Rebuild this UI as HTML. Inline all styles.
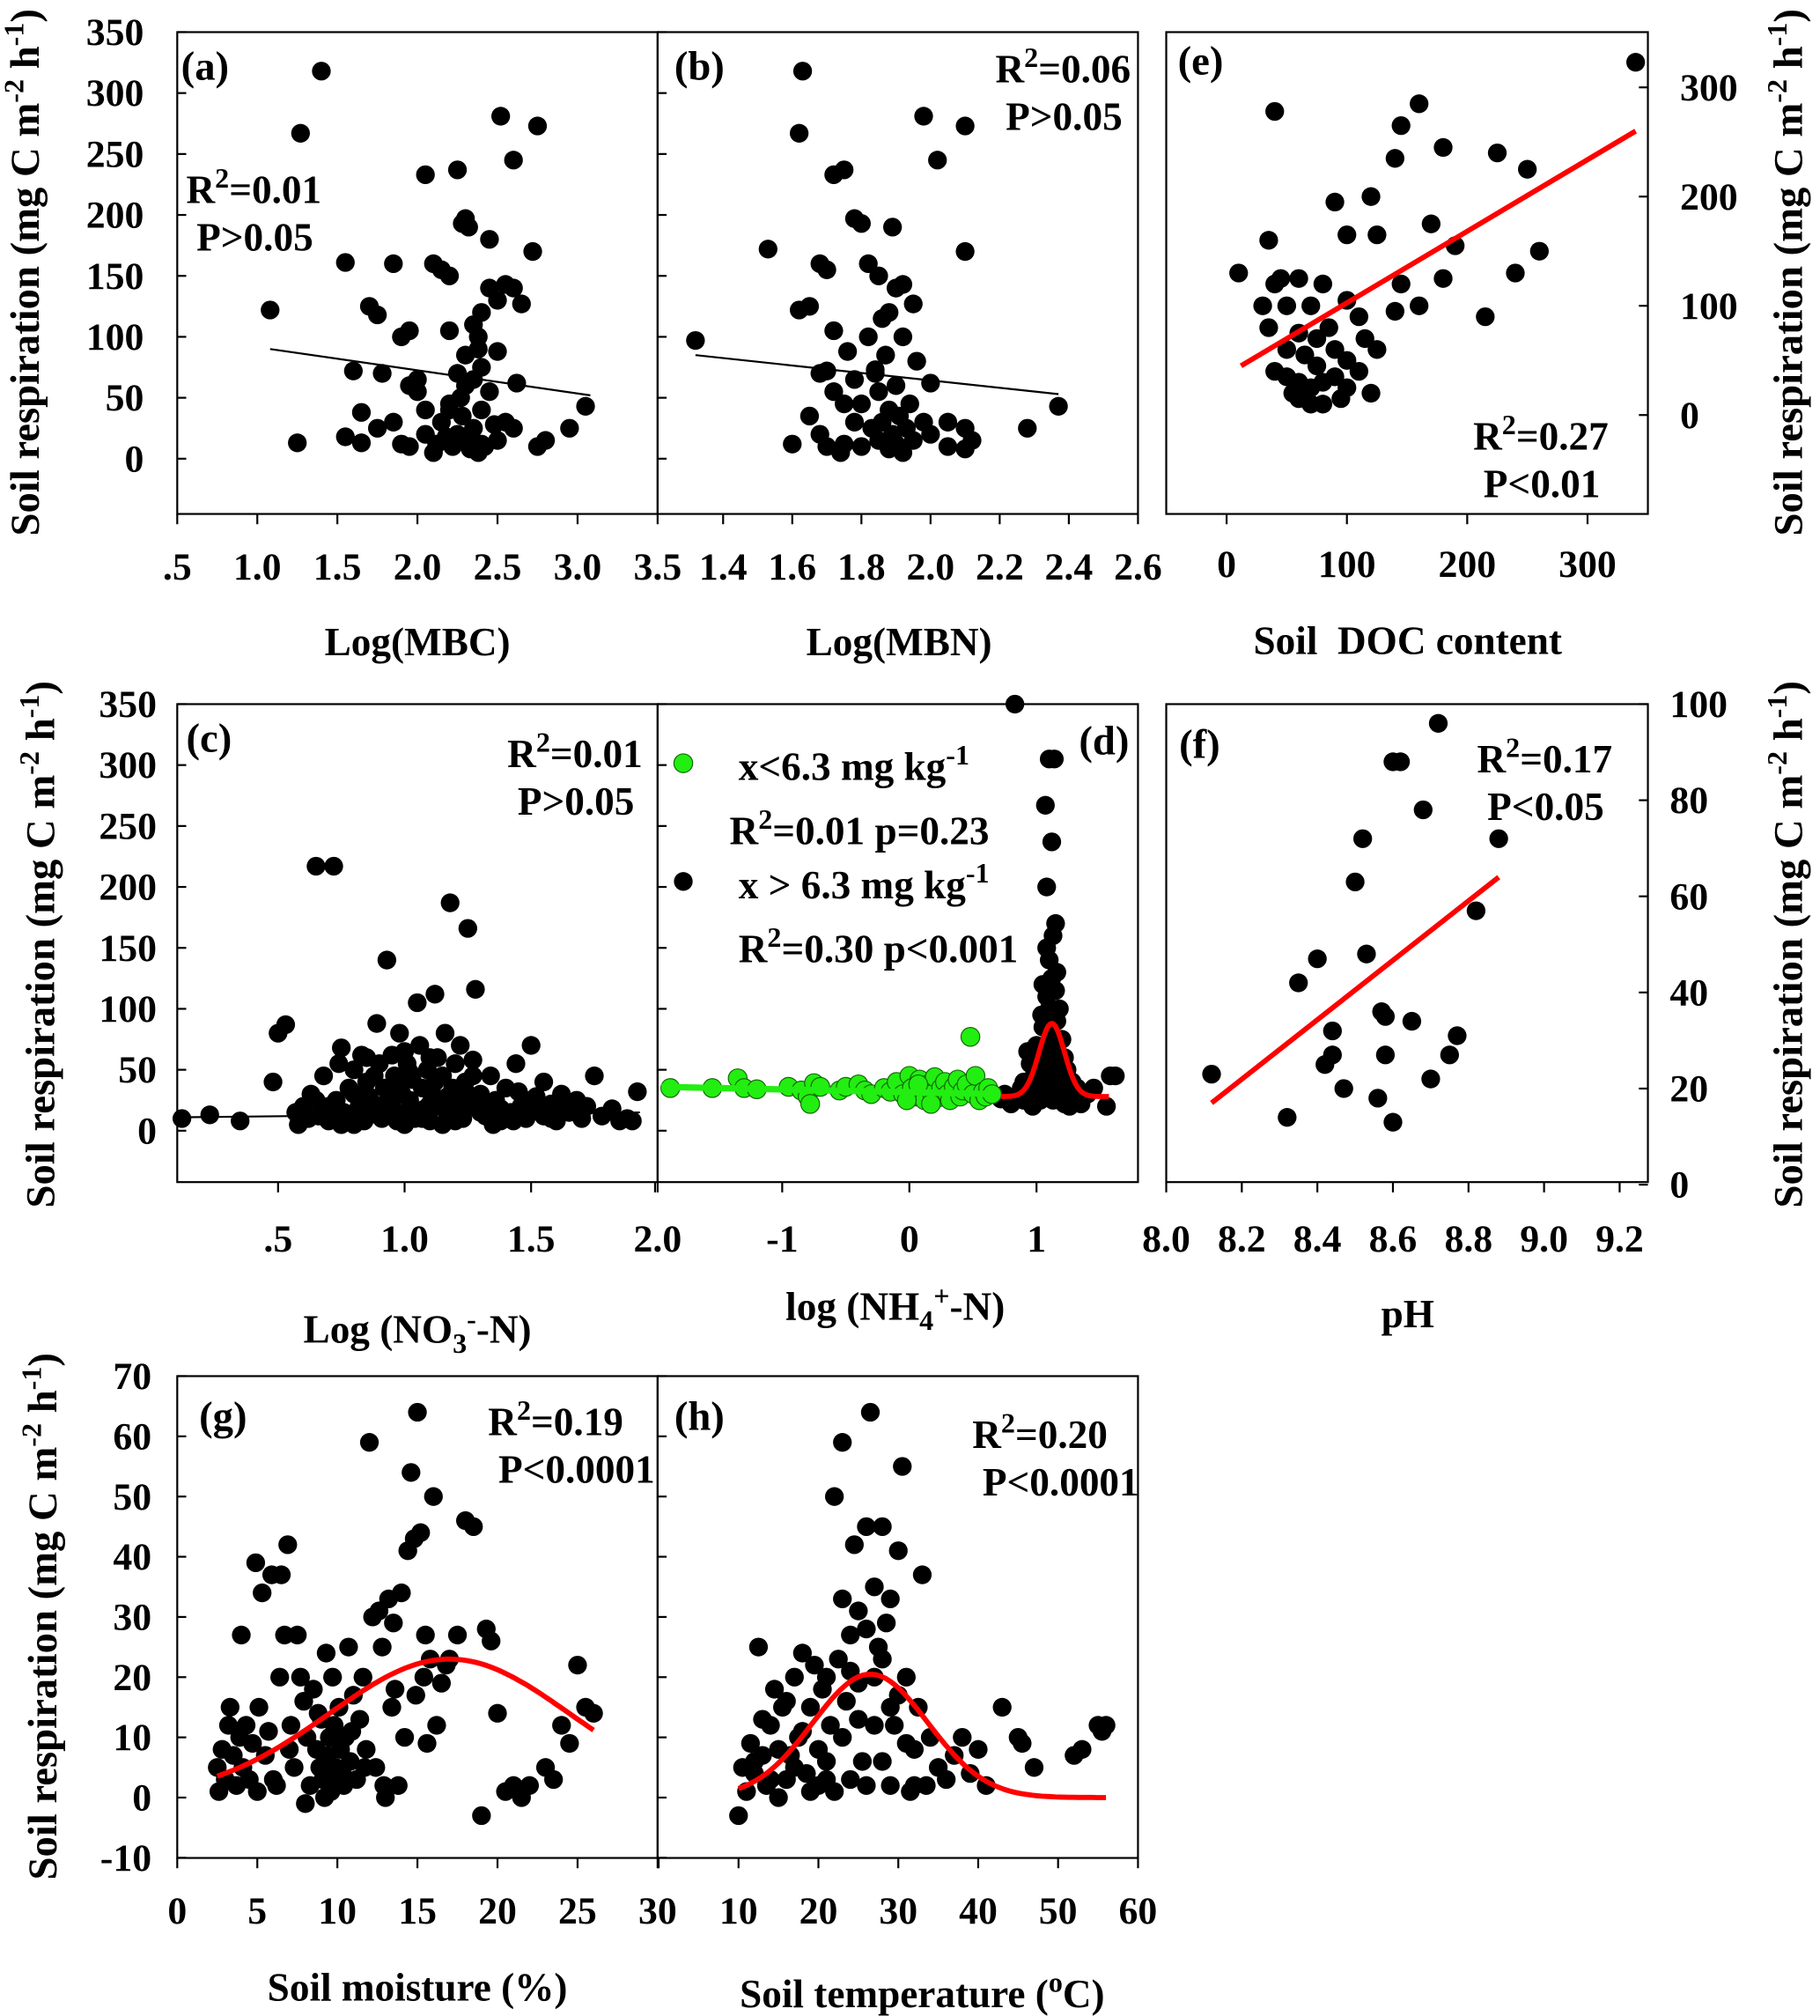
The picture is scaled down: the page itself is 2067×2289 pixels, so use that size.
<!DOCTYPE html>
<html><head><meta charset="utf-8"><style>
html,body{margin:0;padding:0;background:#fff}
svg{display:block}
text{font-family:"Liberation Serif",serif;font-weight:bold;fill:#000}
</style></head><body>
<svg id="fig" width="2067" height="2289" viewBox="0 0 1417 1569" preserveAspectRatio="none" xmlns="http://www.w3.org/2000/svg"></svg>
<script>
// ---------- DATA ----------
const aPts=[[1.4,318],[1.27,267],[1.08,122],[1.25,13],[1.55,161],[1.6,72],[1.65,38],[1.7,125],[1.75,118],[1.78,70],[1.85,160],[1.9,100],[1.95,105],[2.0,65],[2.05,233],[2.1,160],[2.15,155],[2.2,150],[2.25,237],[2.28,193],[2.3,197],[2.32,190],[2.35,110],[2.38,90],[2.4,75],[2.45,140],[2.5,130],[2.52,281],[2.55,143],[2.6,245],[2.62,62],[2.65,127],[2.72,170],[2.75,273],[2.8,15],[2.75,10],[3.05,43],[2.95,25],[1.55,18],[1.65,13],[1.75,25],[1.85,30],[1.9,12],[1.95,10],[2.0,55],[2.05,20],[2.1,5],[2.15,30],[2.2,45],[2.22,10],[2.25,20],[2.28,35],[2.3,60],[2.32,15],[2.35,25],[2.38,5],[2.4,40],[2.42,10],[2.45,55],[2.48,28],[2.5,15],[2.55,30],[2.6,25],[2.25,70],[2.35,65],[2.3,85],[2.2,40],[2.4,12],[2.33,8],[2.27,50],[2.18,18],[2.12,12],[2.05,40],[1.95,60],[2.38,100],[2.5,88],[2.4,120],[2.2,105],[2.6,140],[2.45,180]];
const aFit=[[1.08,90],[3.08,52]];
const bPts=[[1.32,97],[1.63,318],[1.62,267],[1.53,172],[1.62,122],[1.65,125],[1.68,160],[1.72,233],[1.7,155],[1.72,105],[1.75,237],[1.78,197],[1.8,193],[1.82,160],[1.85,150],[1.88,120],[1.9,140],[1.92,143],[1.95,127],[1.98,281],[2.02,245],[2.0,62],[2.1,273],[2.1,170],[2.12,15],[2.1,8],[2.28,25],[2.37,43],[1.6,12],[1.65,35],[1.68,20],[1.7,72],[1.72,55],[1.75,12],[1.76,88],[1.78,65],[1.78,30],[1.8,10],[1.8,45],[1.82,100],[1.83,25],[1.84,70],[1.85,15],[1.85,55],[1.86,30],[1.87,85],[1.88,8],[1.88,40],[1.89,20],[1.9,60],[1.9,12],[1.91,35],[1.92,100],[1.92,5],[1.93,25],[1.94,45],[1.95,15],[1.96,80],[1.98,30],[2.0,20],[2.05,10],[2.1,25],[1.7,10],[1.75,45],[1.68,70],[1.74,5],[1.86,115],[1.89,190],[1.84,73],[2.05,30]];
const bFit=[[1.32,85],[2.37,53]];
const ePts=[[40,278],[340,323],[160,285],[145,265],[180,245],[140,235],[225,240],[250,225],[90,195],[120,200],[35,160],[10,130],[100,165],[125,165],[170,175],[190,155],[240,130],[260,150],[215,90],[160,100],[145,120],[140,95],[180,125],[100,105],[110,90],[85,80],[75,70],[60,75],[50,100],[40,120],[30,100],[45,125],[60,125],[80,120],[70,100],[40,40],[50,35],[60,30],[70,25],[80,30],[90,35],[100,25],[110,40],[120,20],[60,15],[70,10],[50,60],[65,55],[75,45],[90,60],[100,50],[125,60],[55,20],[95,15],[35,80],[80,10],[115,70]];
const eFit=[[12,45],[340,260]];
const cPts=[[0.12,10],[0.23,13],[0.35,8],[0.48,40],[0.5,80],[0.53,87],[0.57,15],[0.58,5],[0.6,20],[0.62,10],[0.63,30],[0.65,217],[0.66,12],[0.68,45],[0.7,8],[0.72,217],[0.73,25],[0.74,55],[0.75,68],[0.76,15],[0.78,35],[0.79,10],[0.8,50],[0.82,20],[0.83,62],[0.84,8],[0.85,40],[0.86,28],[0.88,15],[0.89,88],[0.9,55],[0.91,10],[0.92,35],[0.93,140],[0.94,20],[0.95,62],[0.96,45],[0.97,8],[0.98,80],[0.99,30],[1.0,15],[1.01,55],[1.02,25],[1.03,42],[1.04,10],[1.05,105],[1.06,70],[1.07,35],[1.08,18],[1.09,50],[1.1,8],[1.11,30],[1.12,112],[1.13,60],[1.14,20],[1.15,45],[1.16,80],[1.17,12],[1.18,187],[1.19,35],[1.2,55],[1.21,25],[1.22,70],[1.23,10],[1.24,40],[1.25,166],[1.26,20],[1.27,58],[1.28,116],[1.3,30],[1.32,12],[1.34,45],[1.36,25],[1.38,8],[1.4,35],[1.42,15],[1.44,55],[1.46,20],[1.48,10],[1.5,70],[1.52,28],[1.55,12],[1.58,22],[1.6,8],[1.62,30],[1.65,15],[1.68,25],[1.7,10],[1.72,20],[1.75,45],[1.78,12],[1.82,18],[1.85,8],[1.88,10],[1.92,32],[1.9,8],[0.8,5],[0.9,12],[1.0,5],[1.1,22],[1.2,8],[1.3,15],[0.95,25],[1.05,15],[1.15,5],[1.25,30],[0.85,18],[1.35,5],[1.45,32],[1.55,40],[0.6,10],[0.7,20],[0.75,5],[0.8,30],[0.88,45],[0.92,22],[0.97,38],[1.02,48],[1.07,10],[1.12,40],[1.17,28],[1.22,15],[1.27,45],[1.33,22],[1.38,18],[1.43,8],[1.48,25],[1.53,18],[1.58,10],[1.63,20],[0.65,25],[1.0,65],[1.1,60],[0.85,60],[1.2,18]];
const cFit=[[0.1,11],[1.93,15]];
const dGreen=[[-1.88,35],[-1.55,35],[-1.35,43],[-1.3,35],[-1.2,34],[-0.95,36],[-0.85,33],[-0.8,28],[-0.78,22],[-0.75,39],[-0.7,36],[-0.55,33],[-0.5,36],[-0.4,38],[-0.35,33],[-0.3,30],[-0.2,35],[-0.15,32],[-0.1,40],[-0.05,30],[0.0,45],[0.02,35],[0.05,28],[0.08,42],[0.1,33],[0.12,25],[0.15,38],[0.18,30],[0.2,44],[0.22,27],[0.25,35],[0.28,40],[0.3,30],[0.32,25],[0.35,36],[0.38,42],[0.4,28],[0.42,33],[0.45,38],[0.48,77],[0.5,30],[0.52,45],[0.55,25],[0.58,32],[0.6,28],[0.62,35],[0.65,30],[-0.02,25],[0.07,38],[0.17,22]];
const dBlack=[[0.83,350],[1.07,267],[1.08,200],[1.1,305],[1.12,237],[1.14,305],[1.15,170],[1.13,160],[1.1,140],[1.12,125],[1.08,110],[1.15,115],[1.1,100],[1.13,95],[1.16,90],[1.05,85],[1.11,80],[1.14,75],[1.09,70],[1.06,65],[1.17,60],[1.12,55],[1.1,50],[1.15,45],[1.05,40],[1.2,38],[1.0,35],[1.18,30],[1.08,28],[1.13,25],[1.22,22],[0.95,30],[0.9,25],[0.85,28],[0.8,22],[0.75,30],[0.72,26],[1.25,28],[1.3,25],[1.35,22],[1.4,30],[1.45,35],[1.55,20],[1.58,45],[1.62,45],[1.12,35],[1.07,30],[1.03,25],[1.17,40],[1.11,65],[1.09,45],[1.14,55],[1.06,48],[1.19,52],[0.98,45],[1.02,60],[0.9,40],[0.95,55],[1.0,70],[1.04,95],[1.2,75],[1.24,50],[1.28,40],[0.97,20],[1.26,20],[1.32,35],[1.08,150],[1.16,130],[1.05,120],[1.18,100],[1.22,60],[0.93,65],[1.0,50],[0.88,35]];
const dGreenFit=[[-1.95,36],[0.7,30]];
const dGauss=[28,60,1.12,0.1,0.72,1.57]; // base, amp, center, sigma, xmin, xmax
const fPts=[[8.12,23],[8.32,14],[8.35,42],[8.4,47],[8.42,25],[8.44,32],[8.44,27],[8.47,20],[8.5,63],[8.52,72],[8.53,48],[8.56,18],[8.57,36],[8.58,35],[8.58,27],[8.6,13],[8.6,88],[8.62,88],[8.65,34],[8.68,78],[8.7,22],[8.72,96],[8.75,27],[8.77,31],[8.82,57],[8.88,72]];
const fFit=[[8.12,17],[8.88,64]];
const gPts=[[2.5,5],[2.6,1],[2.8,8],[3,3],[3.2,12],[3.3,15],[3.5,7],[3.7,2],[3.9,10],[4,27],[4.1,5],[4.3,12],[4.5,3],[4.7,9],[4.9,39],[5,1],[5.1,15],[5.3,34],[5.5,7],[5.7,11],[5.9,37],[6,3],[6.2,2],[6.4,20],[6.5,37],[6.7,27],[6.9,42],[7,8],[7.1,12],[7.3,5],[7.5,27],[7.7,20],[7.9,16],[8,-1],[8.1,10],[8.3,2],[8.5,18],[8.7,8],[8.9,5],[9,13],[9.1,3],[9.3,24],[9.4,7],[9.5,10],[9.6,1],[9.7,20],[9.8,12],[9.9,5],[10,3],[10.1,15],[10.2,8],[10.4,2],[10.5,10],[10.7,25],[10.8,6],[11,17],[11.2,3],[11.4,13],[11.6,20],[11.8,8],[12,59],[12.2,30],[12.4,5],[12.6,31],[12.8,25],[13,0],[13.2,33],[13.4,15],[13.6,18],[13.8,2],[14,34],[14.2,10],[14.4,41],[14.6,54],[14.8,43],[15,64],[15.2,44],[15.4,20],[15.6,9],[15.8,23],[16,50],[16.2,12],[16.5,19],[16.8,22],[17,23],[17.5,27],[18,46],[18.5,45],[19,-3],[19.3,28],[19.6,26],[20,14],[20.5,1],[21,2],[21.5,0],[22,2],[23,5],[23.5,3],[24,12],[24.5,9],[25,22],[25.5,15],[26,14],[10.3,4],[10.9,11],[9.2,0],[8.8,14],[11.7,5],[12.9,2],[14.9,17],[15.5,27],[13.5,29]];
const gGauss=[0,23,17,7.5,2.5,26];
const hPts=[[10,-3],[10.5,5],[11,1],[11.5,9],[12,4],[12.5,25],[13,7],[13.5,2],[14,12],[14.5,18],[15,0],[15.5,15],[16,3],[16.5,7],[17,20],[17.5,10],[18,24],[18.5,4],[19,15],[19.5,22],[20,8],[20.5,18],[21,3],[21.5,12],[22,50],[22.5,23],[23,59],[23.5,16],[24,27],[24.5,42],[25,31],[25.5,6],[26,45],[26.5,64],[27,35],[27.5,25],[28,45],[28.5,29],[29,2],[29.5,12],[30,41],[30.5,55],[31,20],[31.5,1],[32,8],[32.5,15],[33,37],[33.5,2],[34,10],[35,5],[36,3],[37,7],[38,10],[39,4],[40,8],[41,2],[43,15],[45,10],[45.5,9],[47,5],[52,7],[53,8],[55,12],[55.5,11],[56,12],[20,2],[21,6],[22,1],[23,10],[24,3],[25,13],[26,2],[27,20],[28,6],[29,33],[19,1],[18,11],[17,5],[16,16],[15,8],[14,3],[13,13],[12,6],[26,28],[24,21],[27,12],[31,9],[32,2],[30,17],[21,20],[23,33],[25,19],[28,23],[29,15]];
const hGauss=[0,20.5,26.5,7.2,10,56];
const yTicksResp=[0,50,100,150,200,250,300,350];
const yTicksG=[-10,0,10,20,30,40,50,60,70];
const yTicksE=[0,100,200,300];
const yTicksF=[0,20,40,60,80,100];

// ---------- DRAW ----------
const NS="http://www.w3.org/2000/svg";
const svg=document.getElementById('fig');
const FS=30, TS=31;
function mk(tag,attrs,parent){const e=document.createElementNS(NS,tag);for(const k in attrs)e.setAttribute(k,attrs[k]);(parent||svg).appendChild(e);return e;}
function txt(x,y,s,size,anchor,parent){const t=mk('text',{x:x,y:y,'font-size':size,'text-anchor':anchor||'start'},parent);t.textContent=s;return t;}
function sc(d0,d1,p0,p1){return v=>p0+(v-d0)*(p1-p0)/(d1-d0);}

function panel(name,x0,x1,y0,y1){
  const g=mk('g',{});
  
  
  const r=mk('rect',{x:x0,y:y0,width:x1-x0,height:y1-y0,fill:'none',stroke:'#000','stroke-width':1.5},g);
  
  
  return g;
}
function dots(g,pts,xs,ys,name,fill,stroke){
  pts.forEach(p=>{const c=mk('circle',{cx:xs(p[0]),cy:ys(p[1]),r:7.3,fill:fill,stroke:stroke||'none','stroke-width':0.8},g);
    
    });
}
function line(g,pts,xs,ys,color,w,name){
  const l=mk('line',{x1:xs(pts[0][0]),y1:ys(pts[0][1]),x2:xs(pts[1][0]),y2:ys(pts[1][1]),stroke:color,'stroke-width':w},g);
  
  
}
function gauss(g,p,xs,ys,name){
  let d='';for(let i=0;i<=80;i++){const x=p[4]+(p[5]-p[4])*i/80;const y=p[0]+p[1]*Math.exp(-((x-p[2])**2)/(2*p[3]*p[3]));d+=(i?'L':'M')+xs(x).toFixed(1)+' '+ys(y).toFixed(1);}
  const pa=mk('path',{d:d,fill:'none',stroke:'#ff0000','stroke-width':4},g);
  
  
}
function xTicks(g,vals,labels,xs,yb,ly,name){
  vals.forEach((v,i)=>{mk('line',{x1:xs(v),y1:yb,x2:xs(v),y2:yb+8,stroke:'#000','stroke-width':1.5},g);
    if(labels[i]==='')return;
    const t=txt(xs(v),ly,labels[i],FS,'middle',g);
    
    });
}
function yTicks(g,vals,ys,xa,lx,anchor,inward,name){
  vals.forEach(v=>{mk('line',{x1:xa,y1:ys(v),x2:xa+inward*7,y2:ys(v),stroke:'#000','stroke-width':1.5},g);
    const t=txt(lx,ys(v)+10,String(v),FS,anchor,g);
    
    });
}
function ytitle(x,y,name){
  const t=mk('text',{transform:'translate('+x+','+y+') rotate(-90)','font-size':32,'text-anchor':'middle'});
  t.innerHTML='Soil respiration (mg C m<tspan dy="-12" font-size="22">-2</tspan><tspan dy="12"> h</tspan><tspan dy="-12" font-size="22">-1</tspan><tspan dy="12">)</tspan>';
  
  
}
function stat(g,x,y,r2,p,name){
  const t=mk('text',{x:x,y:y,'font-size':TS},g);
  t.innerHTML='R<tspan dy="-12" font-size="22">2</tspan><tspan dy="12">='+r2+'</tspan>';
  
  
  const t2=txt(x+8,y+37,p,TS,'start',g);
  
  
}
function label(g,x,y,s,name){const t=txt(x,y,s,32,'start',g);}
function xtitle(x,y,html,name){const t=mk('text',{x:x,y:y,'font-size':TS,'text-anchor':'middle'});t.innerHTML=html;}

// Row 1
const yR1=sc(0,350,357,25);
let xs=sc(0.5,3.5,138,512);
let g=panel('panel-a',138,512,25,400);
yTicks(g,yTicksResp,yR1,138,112,'end',1,'y-tick-label-a');
xTicks(g,[0.5,1,1.5,2,2.5,3,3.5],['.5','1.0','1.5','2.0','2.5','3.0','3.5'],xs,400,451,'x-tick-label-a');
dots(g,aPts,xs,yR1,'point-a','#000');
line(g,aFit,xs,yR1,'#000',1.5,'fit-line-a');
label(g,141,62,'(a)','panel-label-a');
stat(g,145,158,'0.01','P>0.05','stat-a');
xtitle(325,510,'Log(MBC)','x-axis-title-a');
ytitle(30,212,'y-axis-title-row1');

xs=sc(1.4,2.6,563,886);
g=panel('panel-b',512,886,25,400);
xTicks(g,[1.4,1.6,1.8,2.0,2.2,2.4,2.6],['1.4','1.6','1.8','2.0','2.2','2.4','2.6'],xs,400,451,'x-tick-label-b');
yTicksResp.forEach(v=>mk('line',{x1:512,y1:yR1(v),x2:519,y2:yR1(v),stroke:'#000','stroke-width':1.5},g));
dots(g,bPts,xs,yR1,'point-b','#000');
line(g,bFit,xs,yR1,'#000',1.5,'fit-line-b');
label(g,525,62,'(b)','panel-label-b');
stat(g,775,64,'0.06','P>0.05','stat-b');
xtitle(700,510,'Log(MBN)','x-axis-title-b');

xs=sc(0,300,955,1236);
const yE=sc(0,300,323,68);
g=panel('panel-e',908,1283,25,400);
xTicks(g,[0,100,200,300],['0','100','200','300'],xs,400,449,'x-tick-label-e');
yTicks(g,yTicksE,yE,1283,1308,'start',-1,'y-tick-label-e');
dots(g,ePts,xs,yE,'point-e','#000');
line(g,eFit,xs,yE,'#ff0000',4,'fit-line-e');
label(g,917,58,'(e)','panel-label-e');
stat(g,1147,350,'0.27','P<0.01','stat-e');
xtitle(1096,509,'Soil&#160; DOC content','x-axis-title-e');
ytitle(1403,212,'y-axis-title-right-row1');

// Row 2
const yR2=sc(0,350,880,548);
xs=sc(0,2,118,512);
g=panel('panel-c',138,512,548,920);
yTicks(g,yTicksResp,yR2,138,122,'end',1,'y-tick-label-c');
xTicks(g,[0.5,1,1.5,2],['.5','1.0','1.5','2.0'],xs,920,974,'x-tick-label-c');
dots(g,cPts,xs,yR2,'point-c','#000');
line(g,cFit,xs,yR2,'#000',1.5,'fit-line-c');
label(g,145,585,'(c)','panel-label-c');
stat(g,395,597,'0.01','P>0.05','stat-c');
xtitle(325,1045,'Log (NO<tspan dy="8" font-size="22">3</tspan><tspan dy="-19" font-size="22">-</tspan><tspan dy="11">-N)</tspan>','x-axis-title-c');
ytitle(42,735,'y-axis-title-row2');

xs=sc(-1,1,609,807);
g=panel('panel-d',512,886,548,920);
xTicks(g,[-2,-1,0,1],['','-1','0','1'],xs,920,974,'x-tick-label-d');
yTicksResp.forEach(v=>mk('line',{x1:512,y1:yR2(v),x2:519,y2:yR2(v),stroke:'#000','stroke-width':1.5},g));
dots(g,dBlack,xs,yR2,'point-d-high','#000');
dots(g,dGreen,xs,yR2,'point-d-low','#22ee11','#116600');
line(g,dGreenFit,xs,yR2,'#22ee11',5,'fit-line-d-low');
gauss(g,dGauss,xs,yR2,'fit-curve-d-high');
label(g,840,587,'(d)','panel-label-d');
let c=mk('circle',{cx:532,cy:594,r:7.3,fill:'#22ee11',stroke:'#116600','stroke-width':0.8},g);


let t=mk('text',{x:575,y:607,'font-size':TS},g);t.innerHTML='x&lt;6.3 mg kg<tspan dy="-12" font-size="22">-1</tspan>';


t=mk('text',{x:568,y:657,'font-size':TS},g);t.innerHTML='R<tspan dy="-12" font-size="22">2</tspan><tspan dy="12">=0.01 p=0.23</tspan>';


c=mk('circle',{cx:532,cy:686,r:7.3,fill:'#000'},g);


t=mk('text',{x:575,y:699,'font-size':TS},g);t.innerHTML='x &gt; 6.3 mg kg<tspan dy="-12" font-size="22">-1</tspan>';


t=mk('text',{x:575,y:749,'font-size':TS},g);t.innerHTML='R<tspan dy="-12" font-size="22">2</tspan><tspan dy="12">=0.30 p&lt;0.001</tspan>';


xtitle(697,1027,'log (NH<tspan dy="8" font-size="22">4</tspan><tspan dy="-19" font-size="22">+</tspan><tspan dy="11">-N)</tspan>','x-axis-title-d');

xs=sc(8.0,9.2,908,1261);
const yF=sc(0,100,922,548);
g=panel('panel-f',908,1283,548,920);
xTicks(g,[8.0,8.2,8.4,8.6,8.8,9.0,9.2],['8.0','8.2','8.4','8.6','8.8','9.0','9.2'],xs,920,974,'x-tick-label-f');
yTicks(g,yTicksF,yF,1283,1300,'start',-1,'y-tick-label-f');
dots(g,fPts,xs,yF,'point-f','#000');
line(g,fFit,xs,yF,'#ff0000',4,'fit-line-f');
label(g,918,590,'(f)','panel-label-f');
stat(g,1150,601,'0.17','P<0.05','stat-f');
xtitle(1096,1033,'pH','x-axis-title-f');
ytitle(1403,735,'y-axis-title-right-row2');

// Row 3
const yR3=sc(0,70,1399,1071);
xs=sc(0,30,138,512);
g=panel('panel-g',138,512,1071,1446);
yTicks(g,yTicksG,yR3,138,118,'end',1,'y-tick-label-g');
xTicks(g,[0,5,10,15,20,25,30],['0','5','10','15','20','25','30'],xs,1446,1497,'x-tick-label-g');
dots(g,gPts,xs,yR3,'point-g','#000');
gauss(g,gGauss,xs,yR3,'fit-curve-g');
label(g,155,1113,'(g)','panel-label-g');
stat(g,380,1117,'0.19','P<0.0001','stat-g');
xtitle(325,1557,'Soil moisture (%)','x-axis-title-g');
ytitle(44,1258,'y-axis-title-row3');

xs=sc(10,60,575,886);
g=panel('panel-h',512,886,1071,1446);
xTicks(g,[0,10,20,30,40,50,60],['','10','20','30','40','50','60'],xs,1446,1497,'x-tick-label-h');
yTicksG.forEach(v=>mk('line',{x1:512,y1:yR3(v),x2:519,y2:yR3(v),stroke:'#000','stroke-width':1.5},g));
dots(g,hPts,xs,yR3,'point-h','#000');
gauss(g,hGauss,xs,yR3,'fit-curve-h');
label(g,525,1113,'(h)','panel-label-h');
stat(g,757,1127,'0.20','P<0.0001','stat-h');
xtitle(718,1562,'Soil temperature (<tspan dy="-12" font-size="22">o</tspan><tspan dy="12">C)</tspan>','x-axis-title-h');
</script>
</body></html>
